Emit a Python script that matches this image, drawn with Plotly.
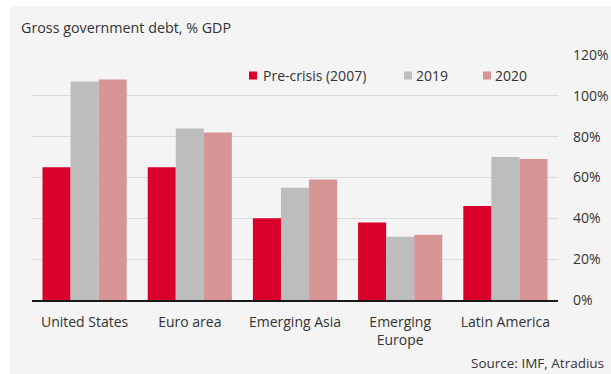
import plotly.graph_objects as go

# Gross government debt as % of GDP
regions = ["United States", "Euro area", "Emerging Asia", "Emerging<br>Europe", "Latin America"]
series_names = ["Pre-crisis (2007)", "2019", "2020"]
pre_crisis_2007 = [65, 65, 40, 38, 46]
debt_2019 = [107, 84, 55, 31, 70]
debt_2020 = [108, 82, 59, 32, 69]
y_ticks = [0, 20, 40, 60, 80, 100, 120]
y_tick_labels = ["0%", "20%", "40%", "60%", "80%", "100%", "120%"]

colors = ["#d9002b", "#bdbdbd", "#d89595"]
panel_bg = "#f4f4f4"
text_col = "#333333"
FONT = "Open Sans"

W, H = 611, 374
M_L, M_R, M_T, M_B = 32, 53, 55, 74
PW, PH = W - M_L - M_R, H - M_T - M_B


def px_x(px):
    return (px - M_L) / PW


def px_y(py):
    return (H - M_B - py) / PH


fig = go.Figure()
for name, vals, col in zip(series_names, [pre_crisis_2007, debt_2019, debt_2020], colors):
    fig.add_trace(go.Bar(
        x=regions, y=vals, name=name, marker=dict(color=col, line=dict(width=0)),
        showlegend=False, hoverinfo="x+y",
    ))

# legend drawn as squares + labels on one row
legend_items = [(249, 261), (404, 414), (483, 493)]
shapes = [
    # white margin strips around the grey panel
    dict(type="rect", xref="paper", yref="paper", x0=px_x(0), x1=px_x(W), y0=px_y(6), y1=px_y(0),
         fillcolor="white", line=dict(width=0), layer="above"),
    dict(type="rect", xref="paper", yref="paper", x0=px_x(0), x1=px_x(10), y0=px_y(H), y1=px_y(0),
         fillcolor="white", line=dict(width=0), layer="above"),
]
annotations = []
for (sq_x, tx), name, col in zip(legend_items, series_names, colors):
    shapes.append(dict(type="rect", xref="paper", yref="paper",
                       x0=px_x(sq_x), x1=px_x(sq_x + 8), y0=px_y(79.5), y1=px_y(71.5),
                       fillcolor=col, line=dict(width=0)))
    annotations.append(dict(text=name, xref="paper", yref="paper", x=px_x(tx), y=px_y(75.5),
                            xanchor="left", yanchor="middle", showarrow=False,
                            font=dict(family=FONT, size=14, color=text_col)))

annotations.append(dict(text="Gross government debt, % GDP", xref="paper", yref="paper",
                        x=px_x(19), y=px_y(27.5), xanchor="left", yanchor="middle", showarrow=False,
                        font=dict(family=FONT, size=14.3, color=text_col)))
annotations.append(dict(text="Source: IMF, Atradius", xref="paper", yref="paper",
                        x=px_x(606), y=px_y(363), xanchor="right", yanchor="middle", showarrow=False,
                        font=dict(family=FONT, size=13.5, color=text_col)))

fig.update_layout(
    width=W, height=H,
    margin=dict(l=M_L, r=M_R, t=M_T, b=M_B, pad=0, autoexpand=False),
    paper_bgcolor=panel_bg, plot_bgcolor=panel_bg,
    barmode="group", bargap=0.2, bargroupgap=0,
    font=dict(family=FONT, size=14, color=text_col),
    shapes=shapes, annotations=annotations,
    xaxis=dict(showgrid=False, showline=True, linecolor="#1a1a1a", linewidth=2,
               ticks="", ticklabelstandoff=8, tickfont=dict(size=14, color=text_col),
               automargin=False, fixedrange=True),
    yaxis=dict(side="right", range=[0, 120], tickmode="array", tickvals=y_ticks,
               ticktext=y_tick_labels,
               showgrid=True, gridcolor="#dadada", gridwidth=1, zeroline=False,
               ticks="", ticklabelstandoff=14, tickfont=dict(size=14, color=text_col),
               automargin=False, fixedrange=True),
)

fig.write_html("out.html", include_plotlyjs=True, config={"displayModeBar": False})
